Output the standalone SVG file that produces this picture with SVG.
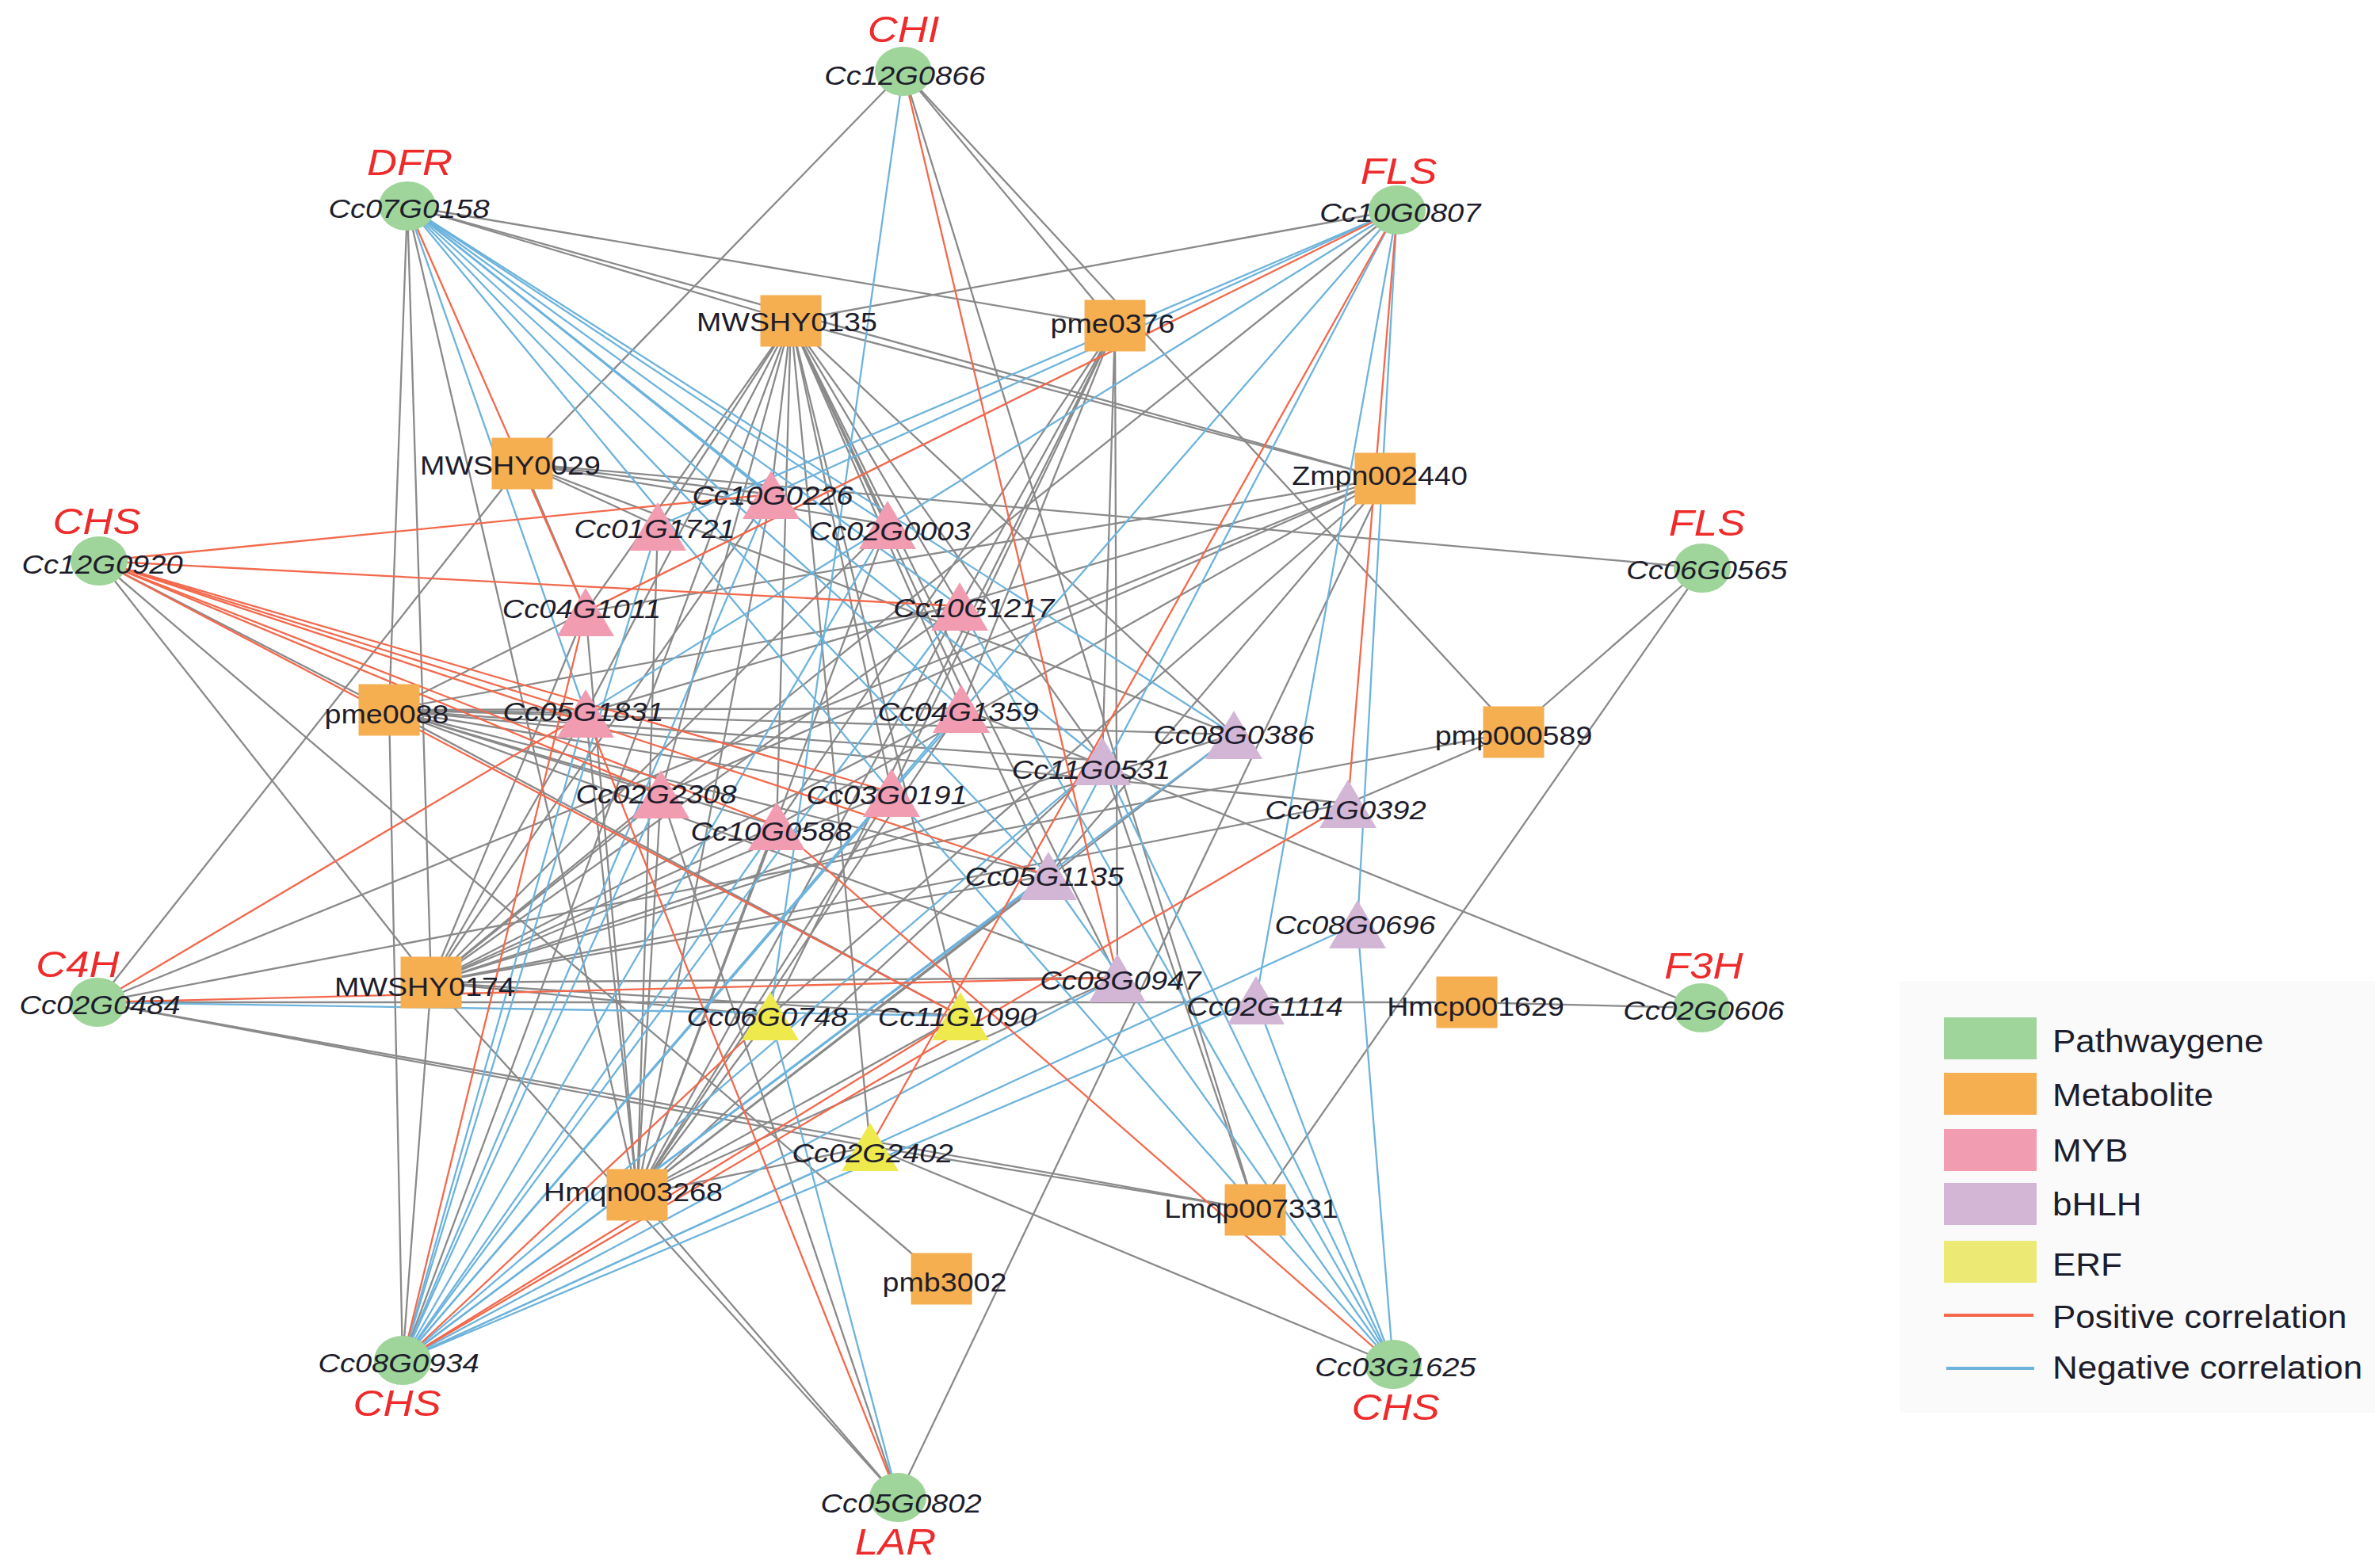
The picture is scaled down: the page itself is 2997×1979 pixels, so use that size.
<svg xmlns="http://www.w3.org/2000/svg" xmlns:xlink="http://www.w3.org/1999/xlink" width="2997" height="1979" viewBox="0 0 2997 1979">
<style>
.bg{fill:#ffffff}
.e line{stroke-width:2.3;fill:none}
.g line{stroke:#8a8a8a}
.n line{stroke:#6db3dc}
.p line{stroke:#f2694c}
.path{fill:#9fd49b}
.met{fill:#f5ae50}
.myb{fill:#f29cb1}
.bhlh{fill:#d3b6d6}
.erf{fill:#eeea4e}
text{font-family:"Liberation Sans",Arial,sans-serif;fill:#1d1d2b;text-anchor:middle;transform-box:fill-box;transform-origin:center;transform:scaleX(1.12)}
.it{font-style:italic;font-size:34px}
.mt{font-size:33px;transform:scaleX(1.14)}
.gn{font-style:italic;font-size:47px;fill:#ee2a2a}
.lg{font-size:40px;text-anchor:start;transform:scaleX(1.1);transform-origin:left center}
</style>
<defs>
<ellipse id="cir" cx="0" cy="0" rx="36" ry="31"/>
<rect id="sq" x="-38.5" y="-32.5" width="77" height="65"/>
<polygon id="tri" points="0,-30 36,31 -36,31"/>
</defs>
<rect class="bg" x="0" y="0" width="2997" height="1979"/>
<g id="connectors" class="e">
<g class="g">
<line x1="514" y1="260" x2="998" y2="405"/>
<line x1="514" y1="260" x2="1407" y2="411"/>
<line x1="514" y1="260" x2="1748" y2="604"/>
<line x1="514" y1="260" x2="491" y2="896"/>
<line x1="514" y1="260" x2="544" y2="1240"/>
<line x1="514" y1="260" x2="804" y2="1508"/>
<line x1="1140" y1="90" x2="659" y2="585"/>
<line x1="1140" y1="90" x2="1407" y2="411"/>
<line x1="1140" y1="90" x2="1910" y2="924"/>
<line x1="1140" y1="90" x2="1584" y2="1527"/>
<line x1="1763" y1="265" x2="998" y2="405"/>
<line x1="1763" y1="265" x2="544" y2="1240"/>
<line x1="125" y1="708" x2="491" y2="896"/>
<line x1="125" y1="708" x2="544" y2="1240"/>
<line x1="125" y1="708" x2="1188" y2="1614"/>
<line x1="123" y1="1265" x2="659" y2="585"/>
<line x1="123" y1="1265" x2="1748" y2="604"/>
<line x1="123" y1="1265" x2="1910" y2="924"/>
<line x1="123" y1="1265" x2="1851" y2="1265"/>
<line x1="123" y1="1265" x2="1098" y2="1447"/>
<line x1="123" y1="1265" x2="1584" y2="1527"/>
<line x1="508" y1="1717" x2="491" y2="896"/>
<line x1="508" y1="1717" x2="544" y2="1240"/>
<line x1="508" y1="1717" x2="998" y2="405"/>
<line x1="1758" y1="1722" x2="1098" y2="1447"/>
<line x1="1133" y1="1890" x2="804" y2="1508"/>
<line x1="1133" y1="1890" x2="544" y2="1240"/>
<line x1="1133" y1="1890" x2="1748" y2="604"/>
<line x1="1133" y1="1890" x2="834" y2="1002"/>
<line x1="2147" y1="1272" x2="1851" y2="1265"/>
<line x1="2147" y1="1272" x2="1213" y2="894"/>
<line x1="2148" y1="717" x2="1910" y2="924"/>
<line x1="2148" y1="717" x2="1584" y2="1527"/>
<line x1="2148" y1="717" x2="659" y2="585"/>
<line x1="998" y1="405" x2="1748" y2="604"/>
<line x1="998" y1="405" x2="830" y2="664"/>
<line x1="998" y1="405" x2="973" y2="624"/>
<line x1="998" y1="405" x2="739" y2="772"/>
<line x1="998" y1="405" x2="739" y2="900"/>
<line x1="998" y1="405" x2="834" y2="1002"/>
<line x1="998" y1="405" x2="980" y2="1042"/>
<line x1="998" y1="405" x2="1120" y2="662"/>
<line x1="998" y1="405" x2="1125" y2="1000"/>
<line x1="998" y1="405" x2="1211" y2="765"/>
<line x1="998" y1="405" x2="1213" y2="894"/>
<line x1="998" y1="405" x2="1391" y2="960"/>
<line x1="998" y1="405" x2="1557" y2="927"/>
<line x1="998" y1="405" x2="1323" y2="1105"/>
<line x1="998" y1="405" x2="1410" y2="1234"/>
<line x1="998" y1="405" x2="1098" y2="1447"/>
<line x1="998" y1="405" x2="1212" y2="1282"/>
<line x1="1407" y1="411" x2="1391" y2="960"/>
<line x1="1407" y1="411" x2="1410" y2="1234"/>
<line x1="1407" y1="411" x2="980" y2="1042"/>
<line x1="1407" y1="411" x2="1211" y2="765"/>
<line x1="1407" y1="411" x2="1125" y2="1000"/>
<line x1="1407" y1="411" x2="1213" y2="894"/>
<line x1="1407" y1="411" x2="972" y2="1282"/>
<line x1="659" y1="585" x2="830" y2="664"/>
<line x1="659" y1="585" x2="973" y2="624"/>
<line x1="659" y1="585" x2="739" y2="772"/>
<line x1="659" y1="585" x2="1120" y2="662"/>
<line x1="659" y1="585" x2="1557" y2="927"/>
<line x1="1748" y1="604" x2="739" y2="900"/>
<line x1="1748" y1="604" x2="980" y2="1042"/>
<line x1="1748" y1="604" x2="972" y2="1282"/>
<line x1="1748" y1="604" x2="834" y2="1002"/>
<line x1="1748" y1="604" x2="1323" y2="1105"/>
<line x1="1748" y1="604" x2="739" y2="772"/>
<line x1="491" y1="896" x2="739" y2="772"/>
<line x1="491" y1="896" x2="739" y2="900"/>
<line x1="491" y1="896" x2="834" y2="1002"/>
<line x1="491" y1="896" x2="980" y2="1042"/>
<line x1="491" y1="896" x2="1125" y2="1000"/>
<line x1="491" y1="896" x2="1213" y2="894"/>
<line x1="491" y1="896" x2="1211" y2="765"/>
<line x1="491" y1="896" x2="1391" y2="960"/>
<line x1="491" y1="896" x2="1557" y2="927"/>
<line x1="491" y1="896" x2="1701" y2="1014"/>
<line x1="491" y1="896" x2="1323" y2="1105"/>
<line x1="491" y1="896" x2="1410" y2="1234"/>
<line x1="491" y1="896" x2="1212" y2="1282"/>
<line x1="1910" y1="924" x2="1701" y2="1014"/>
<line x1="544" y1="1240" x2="739" y2="772"/>
<line x1="544" y1="1240" x2="739" y2="900"/>
<line x1="544" y1="1240" x2="834" y2="1002"/>
<line x1="544" y1="1240" x2="980" y2="1042"/>
<line x1="544" y1="1240" x2="1120" y2="662"/>
<line x1="544" y1="1240" x2="1125" y2="1000"/>
<line x1="544" y1="1240" x2="1213" y2="894"/>
<line x1="544" y1="1240" x2="1211" y2="765"/>
<line x1="544" y1="1240" x2="1391" y2="960"/>
<line x1="544" y1="1240" x2="1557" y2="927"/>
<line x1="544" y1="1240" x2="1701" y2="1014"/>
<line x1="544" y1="1240" x2="1323" y2="1105"/>
<line x1="544" y1="1240" x2="1410" y2="1234"/>
<line x1="544" y1="1240" x2="972" y2="1282"/>
<line x1="544" y1="1240" x2="1212" y2="1282"/>
<line x1="544" y1="1240" x2="973" y2="624"/>
<line x1="804" y1="1508" x2="830" y2="664"/>
<line x1="804" y1="1508" x2="973" y2="624"/>
<line x1="804" y1="1508" x2="739" y2="772"/>
<line x1="804" y1="1508" x2="739" y2="900"/>
<line x1="804" y1="1508" x2="834" y2="1002"/>
<line x1="804" y1="1508" x2="980" y2="1042"/>
<line x1="804" y1="1508" x2="1120" y2="662"/>
<line x1="804" y1="1508" x2="1125" y2="1000"/>
<line x1="804" y1="1508" x2="1211" y2="765"/>
<line x1="804" y1="1508" x2="1213" y2="894"/>
<line x1="804" y1="1508" x2="1391" y2="960"/>
<line x1="804" y1="1508" x2="1557" y2="927"/>
<line x1="804" y1="1508" x2="1323" y2="1105"/>
<line x1="804" y1="1508" x2="1410" y2="1234"/>
<line x1="804" y1="1508" x2="972" y2="1282"/>
<line x1="804" y1="1508" x2="1212" y2="1282"/>
<line x1="804" y1="1508" x2="1098" y2="1447"/>
<line x1="1584" y1="1527" x2="1391" y2="960"/>
<line x1="1584" y1="1527" x2="1098" y2="1447"/>
</g>
<g class="n">
<line x1="514" y1="260" x2="973" y2="624"/>
<line x1="514" y1="260" x2="1120" y2="662"/>
<line x1="514" y1="260" x2="1211" y2="765"/>
<line x1="514" y1="260" x2="1391" y2="960"/>
<line x1="514" y1="260" x2="1213" y2="894"/>
<line x1="514" y1="260" x2="1323" y2="1105"/>
<line x1="514" y1="260" x2="1125" y2="1000"/>
<line x1="514" y1="260" x2="1557" y2="927"/>
<line x1="514" y1="260" x2="739" y2="900"/>
<line x1="1140" y1="90" x2="972" y2="1282"/>
<line x1="1763" y1="265" x2="830" y2="664"/>
<line x1="1763" y1="265" x2="739" y2="900"/>
<line x1="1763" y1="265" x2="1125" y2="1000"/>
<line x1="1763" y1="265" x2="1323" y2="1105"/>
<line x1="1763" y1="265" x2="1585" y2="1262"/>
<line x1="1763" y1="265" x2="1713" y2="1166"/>
<line x1="1763" y1="265" x2="973" y2="624"/>
<line x1="508" y1="1717" x2="830" y2="664"/>
<line x1="508" y1="1717" x2="973" y2="624"/>
<line x1="508" y1="1717" x2="834" y2="1002"/>
<line x1="508" y1="1717" x2="1120" y2="662"/>
<line x1="508" y1="1717" x2="980" y2="1042"/>
<line x1="508" y1="1717" x2="1211" y2="765"/>
<line x1="508" y1="1717" x2="1125" y2="1000"/>
<line x1="508" y1="1717" x2="1213" y2="894"/>
<line x1="508" y1="1717" x2="1391" y2="960"/>
<line x1="508" y1="1717" x2="1323" y2="1105"/>
<line x1="508" y1="1717" x2="1557" y2="927"/>
<line x1="508" y1="1717" x2="1410" y2="1234"/>
<line x1="508" y1="1717" x2="1713" y2="1166"/>
<line x1="508" y1="1717" x2="1585" y2="1262"/>
<line x1="508" y1="1717" x2="1098" y2="1447"/>
<line x1="508" y1="1717" x2="739" y2="900"/>
<line x1="1758" y1="1722" x2="1125" y2="1000"/>
<line x1="1758" y1="1722" x2="1391" y2="960"/>
<line x1="1758" y1="1722" x2="1585" y2="1262"/>
<line x1="1758" y1="1722" x2="1211" y2="765"/>
<line x1="1758" y1="1722" x2="1323" y2="1105"/>
<line x1="1758" y1="1722" x2="1713" y2="1166"/>
<line x1="123" y1="1265" x2="1212" y2="1282"/>
<line x1="1133" y1="1890" x2="972" y2="1282"/>
</g>
<g class="p">
<line x1="514" y1="260" x2="739" y2="772"/>
<line x1="1140" y1="90" x2="1410" y2="1234"/>
<line x1="1763" y1="265" x2="739" y2="772"/>
<line x1="1763" y1="265" x2="1098" y2="1447"/>
<line x1="1763" y1="265" x2="1701" y2="1014"/>
<line x1="125" y1="708" x2="973" y2="624"/>
<line x1="125" y1="708" x2="1211" y2="765"/>
<line x1="125" y1="708" x2="739" y2="900"/>
<line x1="125" y1="708" x2="1125" y2="1000"/>
<line x1="125" y1="708" x2="834" y2="1002"/>
<line x1="125" y1="708" x2="980" y2="1042"/>
<line x1="125" y1="708" x2="1323" y2="1105"/>
<line x1="125" y1="708" x2="1212" y2="1282"/>
<line x1="123" y1="1265" x2="739" y2="900"/>
<line x1="123" y1="1265" x2="1410" y2="1234"/>
<line x1="508" y1="1717" x2="739" y2="772"/>
<line x1="508" y1="1717" x2="972" y2="1282"/>
<line x1="508" y1="1717" x2="1212" y2="1282"/>
<line x1="508" y1="1717" x2="1701" y2="1014"/>
<line x1="1758" y1="1722" x2="980" y2="1042"/>
<line x1="1133" y1="1890" x2="739" y2="900"/>
</g>
</g>
<g id="nodes">
<g id="n-Cc12G0866"><use href="#cir" x="1140" y="90" class="path"/><text class="gn" x="1140" y="53">CHI</text><text class="it" x="1142" y="107">Cc12G0866</text></g>
<g id="n-Cc07G0158"><use href="#cir" x="514" y="260" class="path"/><text class="gn" x="517" y="221">DFR</text><text class="it" x="516" y="275">Cc07G0158</text></g>
<g id="n-Cc10G0807"><use href="#cir" x="1763" y="265" class="path"/><text class="gn" x="1765" y="232">FLS</text><text class="it" x="1767" y="280">Cc10G0807</text></g>
<g id="n-Cc12G0920"><use href="#cir" x="125" y="708" class="path"/><text class="gn" x="122" y="674">CHS</text><text class="it" x="129" y="724">Cc12G0920</text></g>
<g id="n-Cc06G0565"><use href="#cir" x="2148" y="717" class="path"/><text class="gn" x="2154" y="676">FLS</text><text class="it" x="2154" y="731">Cc06G0565</text></g>
<g id="n-Cc02G0484"><use href="#cir" x="123" y="1265" class="path"/><text class="gn" x="98" y="1233">C4H</text><text class="it" x="126" y="1280">Cc02G0484</text></g>
<g id="n-Cc02G0606"><use href="#cir" x="2147" y="1272" class="path"/><text class="gn" x="2150" y="1235">F3H</text><text class="it" x="2150" y="1287">Cc02G0606</text></g>
<g id="n-Cc08G0934"><use href="#cir" x="508" y="1717" class="path"/><text class="it" x="503" y="1732">Cc08G0934</text><text class="gn" x="501" y="1787">CHS</text></g>
<g id="n-Cc03G1625"><use href="#cir" x="1758" y="1722" class="path"/><text class="it" x="1761" y="1737">Cc03G1625</text><text class="gn" x="1761" y="1792">CHS</text></g>
<g id="n-Cc05G0802"><use href="#cir" x="1133" y="1890" class="path"/><text class="it" x="1137" y="1909">Cc05G0802</text><text class="gn" x="1130" y="1962">LAR</text></g>

<g id="n-MWSHY0135"><use href="#sq" x="998" y="405" class="met"/><text class="mt" x="993" y="418">MWSHY0135</text></g>
<g id="n-pme0376"><use href="#sq" x="1407" y="411" class="met"/><text class="mt" x="1404" y="420">pme0376</text></g>
<g id="n-MWSHY0029"><use href="#sq" x="659" y="585" class="met"/><text class="mt" x="644" y="599">MWSHY0029</text></g>
<g id="n-Zmpn002440"><use href="#sq" x="1748" y="604" class="met"/><text class="mt" x="1741" y="612">Zmpn002440</text></g>
<g id="n-pme0088"><use href="#sq" x="491" y="896" class="met"/><text class="mt" x="488" y="913">pme0088</text></g>
<g id="n-pmp000589"><use href="#sq" x="1910" y="924" class="met"/><text class="mt" x="1910" y="940">pmp000589</text></g>
<g id="n-MWSHY0174"><use href="#sq" x="544" y="1240" class="met"/><text class="mt" x="536" y="1257">MWSHY0174</text></g>
<g id="n-Hmcp001629"><use href="#sq" x="1851" y="1265" class="met"/><text class="mt" x="1862" y="1282">Hmcp001629</text></g>
<g id="n-Hmqn003268"><use href="#sq" x="804" y="1508" class="met"/><text class="mt" x="799" y="1516">Hmqn003268</text></g>
<g id="n-Lmqp007331"><use href="#sq" x="1584" y="1527" class="met"/><text class="mt" x="1579" y="1537">Lmqp007331</text></g>
<g id="n-pmb3002"><use href="#sq" x="1188" y="1614" class="met"/><text class="mt" x="1192" y="1630">pmb3002</text></g>

<g id="n-Cc10G0226"><use href="#tri" x="973" y="624" class="myb"/><text class="it" x="975" y="637">Cc10G0226</text></g>
<g id="n-Cc01G1721"><use href="#tri" x="830" y="664" class="myb"/><text class="it" x="826" y="679">Cc01G1721</text></g>
<g id="n-Cc02G0003"><use href="#tri" x="1120" y="662" class="myb"/><text class="it" x="1123" y="682">Cc02G0003</text></g>
<g id="n-Cc04G1011"><use href="#tri" x="739" y="772" class="myb"/><text class="it" x="734" y="780">Cc04G1011</text></g>
<g id="n-Cc10G1217"><use href="#tri" x="1211" y="765" class="myb"/><text class="it" x="1229" y="779">Cc10G1217</text></g>
<g id="n-Cc05G1831"><use href="#tri" x="739" y="900" class="myb"/><text class="it" x="736" y="910">Cc05G1831</text></g>
<g id="n-Cc04G1359"><use href="#tri" x="1213" y="894" class="myb"/><text class="it" x="1209" y="910">Cc04G1359</text></g>
<g id="n-Cc02G2308"><use href="#tri" x="834" y="1002" class="myb"/><text class="it" x="828" y="1014">Cc02G2308</text></g>
<g id="n-Cc03G0191"><use href="#tri" x="1125" y="1000" class="myb"/><text class="it" x="1119" y="1015">Cc03G0191</text></g>
<g id="n-Cc10G0588"><use href="#tri" x="980" y="1042" class="myb"/><text class="it" x="973" y="1061">Cc10G0588</text></g>

<g id="n-Cc08G0386"><use href="#tri" x="1557" y="927" class="bhlh"/><text class="it" x="1557" y="939">Cc08G0386</text></g>
<g id="n-Cc11G0531"><use href="#tri" x="1391" y="960" class="bhlh"/><text class="it" x="1377" y="983">Cc11G0531</text></g>
<g id="n-Cc01G0392"><use href="#tri" x="1701" y="1014" class="bhlh"/><text class="it" x="1698" y="1034">Cc01G0392</text></g>
<g id="n-Cc05G1135"><use href="#tri" x="1323" y="1105" class="bhlh"/><text class="it" x="1318" y="1118">Cc05G1135</text></g>
<g id="n-Cc08G0696"><use href="#tri" x="1713" y="1166" class="bhlh"/><text class="it" x="1710" y="1179">Cc08G0696</text></g>
<g id="n-Cc08G0947"><use href="#tri" x="1410" y="1234" class="bhlh"/><text class="it" x="1414" y="1249">Cc08G0947</text></g>
<g id="n-Cc02G1114"><use href="#tri" x="1585" y="1262" class="bhlh"/><text class="it" x="1596" y="1282">Cc02G1114</text></g>

<g id="n-Cc06G0748"><use href="#tri" x="972" y="1282" class="erf"/><text class="it" x="968" y="1295">Cc06G0748</text></g>
<g id="n-Cc11G1090"><use href="#tri" x="1212" y="1282" class="erf"/><text class="it" x="1208" y="1295">Cc11G1090</text></g>
<g id="n-Cc02G2402"><use href="#tri" x="1098" y="1447" class="erf"/><text class="it" x="1101" y="1467">Cc02G2402</text></g>
</g>
<g id="legend">
<rect x="2398" y="1238" width="599" height="545" fill="#fafafa"/>
<rect x="2453" y="1284" width="117" height="53" class="path"/>
<rect x="2453" y="1354" width="117" height="53" class="met"/>
<rect x="2453" y="1425" width="117" height="53" class="myb"/>
<rect x="2453" y="1493" width="117" height="53" class="bhlh"/>
<rect x="2453" y="1566" width="117" height="53" class="erf" style="fill:#ecea74"/>
<line x1="2453" y1="1660" x2="2566" y2="1660" stroke="#f2694c" stroke-width="4"/>
<line x1="2456" y1="1727" x2="2567" y2="1727" stroke="#6db3dc" stroke-width="4"/>
<text class="lg" x="2590" y="1328">Pathwaygene</text>
<text class="lg" x="2590" y="1396">Metabolite</text>
<text class="lg" x="2590" y="1466">MYB</text>
<text class="lg" x="2590" y="1534">bHLH</text>
<text class="lg" x="2590" y="1610">ERF</text>
<text class="lg" x="2590" y="1676">Positive correlation</text>
<text class="lg" x="2590" y="1740">Negative correlation</text>
</g>
</svg>
